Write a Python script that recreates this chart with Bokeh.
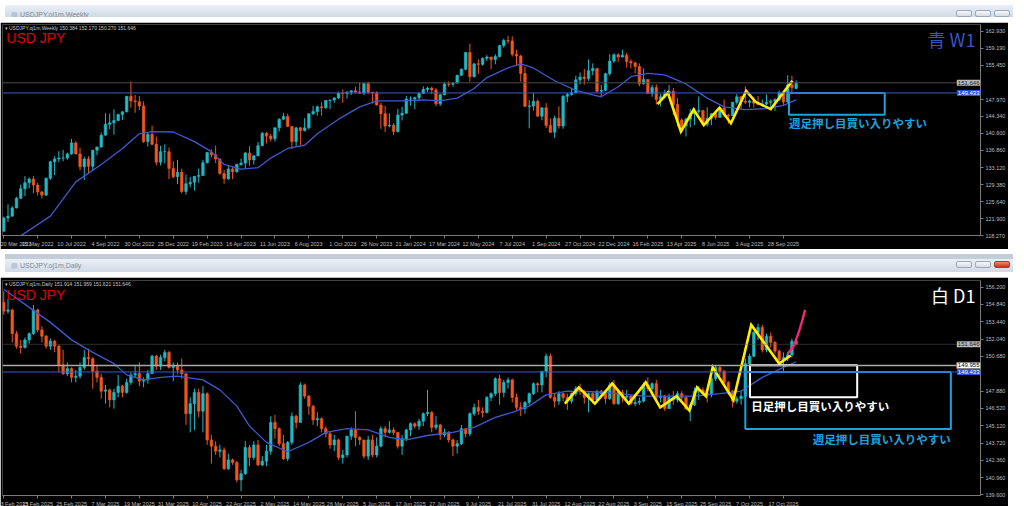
from bokeh.plotting import figure
from bokeh.models import (FixedTicker, Label, Div, ColumnDataSource, Range1d, Span,
                          PrintfTickFormatter)
from bokeh.layouts import column
from bokeh.embed import file_html
from bokeh.resources import INLINE

# ---------------- weekly USDJPY (index 0 = week of 20 Mar 2022) ----------------
w_open = [119.2, 122.1, 122.5, 124.3, 126.4, 128.5, 129.8, 130.6, 129.3, 127.8,
          127.1, 130.8, 134.4, 135.0, 135.2, 135.2, 136.1, 138.5, 136.1, 133.3,
          135.0, 133.4, 136.9, 137.6, 140.2, 142.6, 142.9, 143.4, 144.7, 145.3,
          148.7, 147.7, 147.5, 146.6, 138.8, 140.4, 138.2, 134.3, 136.6, 136.6,
          132.9, 131.1, 132.1, 127.9, 129.6, 129.9, 131.2, 131.4, 134.2, 136.4,
          135.9, 135.0, 131.8, 130.7, 132.8, 132.2, 133.8, 134.1, 136.3, 134.8,
          135.7, 137.9, 140.6, 140.0, 139.4, 141.8, 143.7, 144.3, 142.1, 138.8,
          141.8, 141.2, 141.8, 144.9, 145.4, 146.4, 146.2, 147.8, 147.9, 148.35,
          149.4, 149.3, 149.6, 149.9, 149.65, 149.4, 151.5, 149.6, 149.45, 146.8,
          144.9, 142.2, 142.4, 141.0, 144.6, 145.0, 148.1, 148.1, 148.4, 149.3,
          150.2, 150.5, 150.1, 147.05, 149.05, 151.4, 151.35, 151.6, 153.3, 154.6,
          158.3, 153.0, 155.8, 155.7, 157.0, 157.3, 156.75, 157.4, 159.8, 160.9,
          160.8, 157.9, 157.5, 153.7, 146.5, 146.6, 147.6, 144.35, 146.2, 142.3,
          140.85, 143.9, 142.2, 148.7, 149.1, 149.5, 152.3, 152.9, 152.6, 154.3,
          154.8, 149.8, 150.0, 153.65, 156.4, 157.8, 157.3, 157.7, 156.3, 156.0,
          155.2, 151.4, 152.4, 149.3, 150.6, 148.0, 148.6, 149.3, 149.8, 146.9,
          143.5, 142.2, 143.7, 144.9, 145.4, 145.6, 142.6, 143.9, 144.9, 144.1,
          146.1, 144.6, 144.5, 147.4, 148.6, 147.6, 147.4, 147.7, 147.2, 146.9,
          147.0, 147.4, 147.6, 147.95, 149.5, 147.45, 151.2, 150.384]
w_close = [122.1, 122.5, 124.3, 126.4, 128.5, 129.8, 130.6, 129.3, 127.8, 127.1,
           130.8, 134.4, 135.0, 135.2, 135.2, 136.1, 138.5, 136.1, 133.3, 135.0,
           133.4, 136.9, 137.6, 140.2, 142.6, 142.9, 143.4, 144.7, 145.3, 148.7,
           147.7, 147.5, 146.6, 138.8, 140.4, 138.2, 134.3, 136.6, 136.6, 132.9,
           131.1, 132.1, 127.9, 129.6, 129.9, 131.2, 131.4, 134.2, 136.4, 135.9,
           135.0, 131.8, 130.7, 132.8, 132.2, 133.8, 134.1, 136.3, 134.8, 135.7,
           137.9, 140.6, 140.0, 139.4, 141.8, 143.7, 144.3, 142.1, 138.8, 141.8,
           141.2, 141.8, 144.9, 145.4, 146.4, 146.2, 147.8, 147.9, 148.35, 149.4,
           149.3, 149.6, 149.9, 149.65, 149.4, 151.5, 149.6, 149.45, 146.8, 144.9,
           142.2, 142.4, 141.0, 144.6, 145.0, 148.1, 148.1, 148.4, 149.3, 150.2,
           150.5, 150.1, 147.05, 149.05, 151.4, 151.35, 151.6, 153.3, 154.6, 158.3,
           153.0, 155.8, 155.7, 157.0, 157.3, 156.75, 157.4, 159.8, 160.9, 160.8,
           157.9, 157.5, 153.7, 146.5, 146.6, 147.6, 144.35, 146.2, 142.3, 140.85,
           143.9, 142.2, 148.7, 149.1, 149.5, 152.3, 152.9, 152.6, 154.3, 154.8,
           149.8, 150.0, 153.65, 156.4, 157.8, 157.3, 157.7, 156.3, 156.0, 155.2,
           151.4, 152.4, 149.3, 150.6, 148.0, 148.6, 149.3, 149.8, 146.9, 143.5,
           142.2, 143.7, 144.9, 145.4, 145.6, 142.6, 143.9, 144.9, 144.1, 146.1,
           144.6, 144.5, 147.4, 148.6, 147.6, 147.4, 147.7, 147.2, 146.9, 147.0,
           147.4, 147.6, 147.95, 149.5, 147.45, 151.2, 150.6, 151.646]
w_high = [122.4, 125.1, 124.7, 126.7, 129.4, 131.25, 131.0, 131.3, 129.8, 128.0,
          130.9, 134.6, 135.6, 136.7, 137.0, 136.4, 139.4, 138.9, 137.5, 135.5,
          135.6, 137.0, 137.7, 140.8, 145.0, 144.9, 145.9, 144.9, 145.4, 148.8,
          151.95, 149.0, 148.8, 147.6, 140.8, 142.25, 139.9, 137.9, 138.2, 137.5,
          134.5, 134.8, 132.9, 131.6, 131.1, 131.2, 132.9, 134.8, 136.5, 137.1,
          137.9, 135.1, 132.6, 133.6, 133.2, 134.0, 135.1, 136.55, 137.8, 135.8,
          138.75, 140.9, 140.9, 140.5, 141.9, 143.9, 145.1, 144.9, 142.2, 141.95,
          142.0, 143.9, 145.0, 146.6, 146.65, 147.4, 147.9, 147.95, 148.5, 149.7,
          150.2, 149.8, 150.0, 150.8, 151.7, 151.6, 151.9, 149.7, 149.8, 147.3,
          146.6, 144.95, 142.8, 145.95, 146.4, 148.8, 148.7, 148.6, 149.6, 150.9,
          150.8, 150.8, 150.5, 149.2, 151.85, 151.97, 151.8, 153.4, 154.8, 158.4,
          160.2, 155.9, 156.8, 157.2, 157.7, 157.3, 157.9, 159.9, 161.3, 161.95,
          161.8, 158.9, 157.8, 155.2, 147.9, 149.4, 148.0, 146.2, 147.2, 143.9,
          144.5, 146.5, 149.0, 149.5, 150.3, 153.2, 153.9, 154.7, 156.75, 155.9,
          154.9, 151.2, 153.85, 157.9, 158.1, 158.1, 158.9, 158.2, 156.8, 156.3,
          155.9, 154.8, 152.4, 151.2, 151.3, 149.2, 150.15, 151.2, 150.5, 148.3,
          143.9, 144.0, 145.9, 146.2, 148.65, 145.7, 146.3, 145.0, 145.5, 146.3,
          148.0, 144.9, 147.5, 149.2, 148.8, 150.9, 148.0, 148.5, 148.8, 148.0,
          149.1, 148.0, 148.3, 149.95, 149.6, 153.3, 153.2, 152.17]
w_low = [119.1, 121.2, 122.4, 124.2, 126.3, 126.9, 128.6, 127.5, 127.0, 126.4,
         126.9, 130.4, 131.5, 134.3, 134.5, 134.8, 135.9, 136.5, 132.5, 130.4,
         131.7, 132.6, 135.8, 137.5, 140.1, 141.5, 140.3, 143.3, 143.5, 145.2,
         146.2, 145.1, 145.7, 138.5, 137.7, 138.0, 133.6, 133.6, 134.0, 130.6,
         130.8, 129.5, 127.5, 127.2, 128.8, 128.1, 129.8, 131.3, 134.0, 135.3,
         134.1, 131.6, 129.6, 130.4, 130.6, 132.0, 133.5, 133.0, 133.5, 133.8,
         135.6, 137.8, 138.4, 138.8, 138.8, 141.0, 143.5, 142.1, 137.2, 137.7,
         138.05, 141.0, 141.5, 144.6, 144.5, 144.45, 145.9, 145.9, 147.3, 148.1,
         147.3, 148.2, 149.0, 149.3, 149.2, 149.0, 149.2, 147.1, 146.65, 141.6,
         140.9, 141.9, 140.25, 140.8, 143.4, 144.9, 146.65, 145.9, 147.6, 149.2,
         149.7, 149.2, 146.5, 146.6, 148.9, 150.8, 150.8, 151.5, 153.2, 154.4,
         151.9, 152.8, 153.6, 155.4, 156.4, 154.6, 155.7, 157.2, 159.3, 160.2,
         157.4, 155.4, 151.9, 146.4, 141.7, 145.6, 144.3, 143.45, 141.75, 140.7,
         139.6, 141.65, 141.6, 147.4, 148.85, 149.4, 151.3, 151.3, 152.1, 153.3,
         149.5, 148.65, 149.9, 153.2, 156.0, 156.25, 157.2, 154.95, 154.8, 153.7,
         150.9, 151.3, 149.2, 148.6, 146.9, 146.5, 148.2, 148.9, 144.6, 142.1,
         140.85, 139.9, 141.9, 142.4, 144.9, 142.4, 142.1, 142.4, 143.6, 144.0,
         144.1, 142.7, 144.4, 146.9, 145.85, 147.0, 146.3, 146.2, 146.7, 146.4,
         146.8, 146.3, 145.5, 147.7, 146.6, 147.3, 149.4, 150.27]
w_tick_idx = [0, 8, 16, 24, 32, 40, 48, 56, 64, 72, 80, 88, 96, 104, 112, 120,
              128, 136, 144, 152, 160, 168, 176, 184]
w_tick_labels = ["20 Mar 2022", "15 May 2022", "10 Jul 2022", "4 Sep 2022", "30 Oct 2022",
                 "25 Dec 2022", "19 Feb 2023", "16 Apr 2023", "11 Jun 2023", "6 Aug 2023",
                 "1 Oct 2023", "26 Nov 2023", "21 Jan 2024", "17 Mar 2024", "12 May 2024",
                 "7 Jul 2024", "1 Sep 2024", "27 Oct 2024", "22 Dec 2024", "16 Feb 2025",
                 "13 Apr 2025", "8 Jun 2025", "3 Aug 2025", "28 Sep 2025"]
w_price_ticks = [118.27, 121.90, 125.64, 129.38, 133.12, 136.86, 140.60, 144.34,
                 147.97, 155.45, 159.19, 162.93]
w_ma_idx = [4, 11, 17, 23, 28, 32, 35, 40, 45, 49, 52, 56, 60, 63, 67, 71, 74, 79, 84,
            88, 94, 99, 103, 107, 111, 114, 119, 122, 125, 130, 135, 139, 141, 145, 148,
            152, 156, 161, 166, 170, 175, 180, 184, 187]
w_ma_val = [118.2, 122.5, 130.0, 133.8, 137.3, 140.5, 141.0, 140.9, 138.8, 136.6,
            133.8, 132.8, 133.1, 135.2, 137.3, 138.0, 140.5, 143.7, 146.4, 147.7,
            147.7, 147.9, 147.7, 148.3, 150.4, 152.8, 154.9, 155.8, 154.9, 152.1,
            150.0, 149.0, 148.6, 150.8, 153.0, 153.7, 153.4, 151.4, 148.3, 146.4,
            145.8, 146.0, 146.7, 147.9]
w_zz_idx = [154.3, 156.7, 159.8, 162.8, 165.2, 168.9, 171.6, 175.2, 177.4, 181.0, 186.1]
w_zz_val = [147.0, 149.5, 141.0, 145.8, 142.4, 146.2, 142.8, 149.9, 147.5, 145.9, 152.1]
w_zone = [185.3, 207.9, 149.43, 144.67]          # left, right, top, bottom
w_last_price = 151.646
w_ma_price = 149.433

# ---------------- daily USDJPY (index 0 = 3 Feb 2025) ----------------
d_open = [155.0, 154.3, 154.4, 152.5, 151.5, 151.4, 152.0, 152.5, 154.4, 152.8,
          152.3, 151.5, 151.9, 151.5, 150.0, 149.3, 149.7, 149.0, 149.1, 149.8,
          150.6, 150.5, 149.5, 149.0, 147.9, 148.0, 147.2, 147.8, 148.3, 147.8,
          148.6, 149.2, 149.3, 148.7, 148.8, 149.3, 150.7, 149.9, 150.6, 151.0,
          149.8, 149.9, 149.6, 149.3, 146.1, 146.9, 147.8, 146.3, 147.7, 144.0,
          143.5, 143.1, 143.2, 141.7, 142.4, 142.2, 140.8, 141.3, 143.4, 142.6,
          143.6, 142.0, 142.3, 143.1, 145.4, 144.9, 143.7, 142.5, 143.8, 145.9,
          145.4, 148.4, 147.5, 146.7, 145.6, 145.7, 144.9, 144.5, 143.6, 144.0,
          142.6, 142.8, 144.3, 144.8, 144.2, 144.0, 142.7, 144.0, 142.8, 143.5,
          144.9, 144.6, 144.8, 144.6, 143.5, 144.1, 144.8, 145.3, 145.1, 145.5,
          146.1, 146.2, 145.0, 145.2, 144.4, 144.6, 144.0, 143.5, 143.7, 144.9,
          144.5, 146.1, 146.6, 146.3, 146.2, 147.4, 147.7, 148.9, 147.8, 148.6,
          148.8, 147.4, 146.6, 146.5, 147.0, 147.7, 148.5, 148.4, 149.5, 150.7,
          147.4, 147.1, 147.7, 147.4, 147.1, 147.7, 148.1, 147.9, 147.4, 147.7,
          147.2, 147.9, 147.7, 147.3, 148.4, 146.9, 147.8, 147.4, 147.5, 146.9,
          147.0, 147.1, 148.4, 148.1, 148.5, 147.4, 147.5, 146.5, 147.4, 147.2,
          147.7, 147.4, 146.5, 146.8, 147.9, 148.0, 147.7, 147.6, 148.9, 149.8,
          149.5, 148.6, 147.9, 147.1, 147.3, 147.5, 150.1, 150.7, 152.6, 153.0,
          151.2, 152.3, 151.8, 151.1, 150.4, 150.6, 150.8, 151.914]
d_close = [154.3, 154.4, 152.5, 151.5, 151.4, 152.0, 152.5, 154.4, 152.8, 152.3,
           151.5, 151.9, 151.5, 150.0, 149.3, 149.7, 149.0, 149.1, 149.8, 150.6,
           150.5, 149.5, 149.0, 147.9, 148.0, 147.2, 147.8, 148.3, 147.8, 148.6,
           149.2, 149.3, 148.7, 148.8, 149.3, 150.7, 149.9, 150.6, 151.0, 149.8,
           149.9, 149.6, 149.3, 146.1, 146.9, 147.8, 146.3, 147.7, 144.0, 143.5,
           143.1, 143.2, 141.7, 142.4, 142.2, 140.8, 141.3, 143.4, 142.6, 143.6,
           142.0, 142.3, 143.1, 145.4, 144.9, 143.7, 142.5, 143.8, 145.9, 145.4,
           148.4, 147.5, 146.7, 145.6, 145.7, 144.9, 144.5, 143.6, 144.0, 142.6,
           142.8, 144.3, 144.8, 144.2, 144.0, 142.7, 144.0, 142.8, 143.5, 144.9,
           144.6, 144.8, 144.6, 143.5, 144.1, 144.8, 145.3, 145.1, 145.5, 146.1,
           146.2, 145.0, 145.2, 144.4, 144.6, 144.0, 143.5, 143.7, 144.9, 144.5,
           146.1, 146.6, 146.3, 146.2, 147.4, 147.7, 148.9, 147.8, 148.6, 148.8,
           147.4, 146.6, 146.5, 147.0, 147.7, 148.5, 148.4, 149.5, 150.7, 147.4,
           147.1, 147.7, 147.4, 147.1, 147.7, 148.1, 147.9, 147.4, 147.7, 147.2,
           147.9, 147.7, 147.3, 148.4, 146.9, 147.8, 147.4, 147.5, 146.9, 147.0,
           147.1, 148.4, 148.1, 148.5, 147.4, 147.5, 146.5, 147.4, 147.2, 147.7,
           147.4, 146.5, 146.8, 147.9, 148.0, 147.7, 147.6, 148.9, 149.8, 149.5,
           148.6, 147.9, 147.1, 147.3, 147.5, 150.1, 150.7, 152.6, 153.0, 151.2,
           152.3, 151.8, 151.1, 150.4, 150.6, 150.8, 151.9, 151.646]
d_high = [155.9, 155.3, 154.5, 152.7, 152.0, 152.2, 152.6, 154.8, 154.5, 153.1,
          152.4, 152.1, 152.0, 151.6, 151.2, 150.2, 149.8, 149.6, 150.2, 151.2,
          151.3, 150.6, 150.0, 149.3, 148.4, 148.1, 148.1, 149.2, 148.4, 148.9,
          149.4, 150.0, 150.2, 149.0, 149.6, 150.8, 150.8, 150.8, 151.2, 151.1,
          150.2, 150.2, 150.5, 149.3, 147.4, 148.1, 148.1, 148.3, 147.8, 144.4,
          143.9, 143.6, 143.4, 142.9, 142.5, 142.3, 141.6, 143.9, 143.6, 143.9,
          144.0, 142.7, 143.6, 145.9, 146.0, 145.0, 144.4, 143.9, 146.2, 146.0,
          148.6, 148.5, 147.6, 146.8, 146.2, 145.8, 145.1, 144.7, 144.4, 144.1,
          143.2, 144.3, 145.0, 146.3, 144.3, 144.0, 144.3, 144.4, 144.2, 145.1,
          145.1, 145.5, 145.0, 144.6, 144.4, 144.9, 145.4, 145.4, 145.7, 146.2,
          148.0, 146.3, 145.9, 145.3, 144.9, 144.7, 144.1, 144.0, 145.2, 144.9,
          146.2, 146.9, 147.2, 146.6, 147.5, 147.8, 149.0, 149.2, 148.8, 149.0,
          148.9, 147.7, 147.0, 147.1, 147.8, 148.6, 148.6, 149.5, 150.9, 150.9,
          147.7, 147.9, 147.8, 147.7, 147.8, 148.3, 148.5, 148.0, 147.8, 147.9,
          148.0, 148.0, 147.8, 148.6, 148.8, 147.9, 148.0, 148.0, 147.6, 147.4,
          147.4, 148.6, 149.0, 148.6, 148.8, 148.0, 147.6, 147.7, 147.9, 147.9,
          147.9, 147.5, 147.0, 148.2, 148.3, 148.2, 147.9, 149.0, 149.9, 149.9,
          149.6, 148.7, 148.0, 147.5, 147.9, 150.5, 150.9, 152.7, 153.3, 153.2,
          152.5, 152.6, 151.9, 151.2, 151.0, 151.0, 152.1, 151.959]
d_low = [154.0, 154.1, 151.8, 151.3, 150.9, 151.3, 151.7, 152.4, 152.6, 151.8,
         151.3, 151.2, 151.0, 149.4, 149.2, 149.1, 148.6, 148.6, 148.9, 149.6,
         150.0, 148.1, 148.6, 147.3, 146.9, 146.6, 146.5, 147.4, 147.4, 147.7,
         148.4, 149.0, 148.3, 148.2, 148.5, 149.3, 149.6, 149.6, 150.3, 149.7,
         148.7, 149.3, 148.9, 145.2, 144.6, 144.8, 145.8, 144.6, 143.6, 142.1,
         142.8, 142.6, 141.6, 141.6, 142.0, 140.6, 139.9, 141.2, 141.9, 142.4,
         141.9, 141.9, 141.9, 142.8, 144.1, 143.5, 142.4, 142.3, 143.6, 144.9,
         145.4, 147.3, 146.0, 145.2, 145.1, 144.6, 144.2, 143.3, 143.1, 142.4,
         142.1, 142.6, 144.0, 143.5, 143.6, 142.5, 142.4, 142.6, 142.6, 143.4,
         144.2, 144.5, 144.4, 143.3, 142.8, 143.9, 144.3, 144.9, 144.8, 145.1,
         145.9, 144.6, 144.8, 144.0, 144.2, 143.8, 142.7, 142.9, 143.6, 144.2,
         144.3, 145.9, 146.0, 145.8, 146.1, 147.1, 147.5, 146.8, 147.4, 148.1,
         147.0, 146.4, 145.9, 146.1, 146.8, 147.6, 147.8, 147.8, 149.0, 147.3,
         146.6, 146.8, 147.1, 146.4, 146.9, 147.5, 147.6, 146.9, 146.2, 146.9,
         147.1, 147.4, 146.9, 147.2, 146.8, 146.8, 147.0, 147.2, 146.8, 146.7,
         146.8, 147.0, 147.9, 147.8, 147.0, 147.0, 146.3, 146.5, 146.8, 147.0,
         147.1, 146.4, 145.5, 146.7, 147.2, 147.5, 147.0, 147.4, 148.7, 149.1,
         148.4, 147.6, 146.6, 146.9, 146.8, 147.5, 149.9, 150.6, 152.0, 151.0,
         151.0, 151.4, 150.9, 150.2, 149.4, 150.3, 150.6, 151.621]
d_tick_idx = [0, 8, 16, 24, 32, 40, 48, 56, 64, 72, 80, 88, 96, 104, 112, 120,
              128, 136, 144, 152, 160, 168, 176, 184]
d_tick_labels = ["3 Feb 2025", "13 Feb 2025", "25 Feb 2025", "7 Mar 2025", "19 Mar 2025",
                 "31 Mar 2025", "10 Apr 2025", "22 Apr 2025", "2 May 2025", "14 May 2025",
                 "26 May 2025", "5 Jun 2025", "17 Jun 2025", "27 Jun 2025", "9 Jul 2025",
                 "21 Jul 2025", "31 Jul 2025", "12 Aug 2025", "22 Aug 2025", "3 Sep 2025",
                 "15 Sep 2025", "25 Sep 2025", "7 Oct 2025", "17 Oct 2025"]
d_price_ticks = [139.60, 140.96, 142.36, 143.72, 145.12, 146.52, 147.88,
                 150.68, 152.04, 153.44, 154.84, 156.20]
d_ma_idx = [0, 6, 11, 16, 21, 26, 29, 33, 37, 41, 47, 51, 55, 58, 62, 67, 72, 76, 81,
            86, 91, 95, 100, 106, 111, 116, 120, 124, 128, 133, 139, 145, 151, 157, 163,
            169, 174, 179, 184, 187]
d_ma_val = [156.05, 154.6, 153.4, 152.0, 151.0, 150.1, 149.2, 148.8, 149.0, 149.1,
            148.8, 148.0, 146.7, 145.1, 143.8, 143.05, 143.8, 144.6, 144.9, 144.8,
            144.2, 144.0, 144.35, 144.6, 145.0, 145.8, 146.2, 146.7, 147.6, 147.9,
            147.85, 147.7, 147.5, 147.5, 147.5, 147.7, 147.9, 149.0, 149.8, 150.25]
d_zz_idx = [132.4, 135.7, 139.5, 143.6, 147.5, 151.5, 154.9, 158.8, 161.8, 163.6,
            165.7, 167.3, 172.2, 176.4, 183.0, 185.7]
d_zz_val = [146.9, 148.2, 146.9, 148.5, 146.9, 148.6, 146.6, 147.5, 146.35, 148.2,
            147.5, 149.8, 147.2, 153.2, 150.1, 150.75]
d_proj_idx = [184.9, 186.4, 187.6, 188.4, 189.1]
d_proj_val = [150.86, 151.5, 152.6, 153.5, 154.4]
d_zone_white = [176.1, 201.4, 149.97, 147.42]
d_zone_cyan = [175.0, 223.5, 149.43, 144.87]
d_last_price = 151.646
d_line_price = 149.955
d_ma_price = 149.433

BULL = "#20b9c6"
BEAR = "#f2561d"
MA_C = "#3d59d0"
CYAN = "#1ea2dc"
YEL = "#ffec00"
AXC = "#7a7a7a"
LBL = "#bdbdbd"
NUM_FONT = "Liberation Sans"
JP_FONT = "Noto Sans CJK JP"
X_END = 230.5


def base_fig(height, yr, top, bottom, ticks_idx, tick_labels, price_ticks):
    p = figure(width=1008, height=height, x_range=Range1d(-0.3, X_END), y_range=Range1d(*yr),
               y_axis_location="right", output_backend="svg", toolbar_location=None,
               min_border_top=top, min_border_left=2, min_border_right=27,
               min_border_bottom=bottom)
    p.background_fill_color = "black"
    p.border_fill_color = "black"
    p.outline_line_color = None
    p.grid.visible = False
    for ax in (p.xaxis[0], p.yaxis[0]):
        ax.axis_line_color = AXC
        ax.major_tick_line_color = AXC
        ax.minor_tick_line_color = None
        ax.major_tick_in = 0
        ax.major_tick_out = 3
        ax.major_label_text_color = LBL
        ax.major_label_text_font = NUM_FONT
        ax.major_label_text_font_size = "5.5px"
        ax.major_label_standoff = 2
    p.xaxis.ticker = FixedTicker(ticks=ticks_idx)
    p.xaxis.major_label_overrides = {i: s for i, s in zip(ticks_idx, tick_labels)}
    p.xaxis.major_label_text_align = "left"
    p.yaxis.ticker = FixedTicker(ticks=price_ticks)
    p.yaxis.formatter = PrintfTickFormatter(format="%.3f")
    return p


def candles(p, o, h, l, c):
    idx = list(range(len(o)))
    col = [BULL if cc >= oo else BEAR for oo, cc in zip(o, c)]
    src = ColumnDataSource(dict(x=idx, h=h, l=l, top=[max(a, b) for a, b in zip(o, c)],
                                bot=[min(a, b) for a, b in zip(o, c)], col=col))
    p.segment(x0="x", y0="l", x1="x", y1="h", line_color="col", line_width=1, source=src)
    p.vbar(x="x", width=0.6, top="top", bottom="bot", fill_color="col", line_color="col",
           line_width=0.6, source=src)


def price_box(p, y, txt_, bg, fg, border=None):
    # price tag drawn at the right edge of the chart frame, next to the price axis
    p.add_layout(Label(x=X_END, y=y, text=txt_, text_font=NUM_FONT, text_font_size="6px",
                       text_color=fg, text_baseline="middle", text_align="right",
                       background_fill_color=bg, border_line_color=border,
                       padding=1))


def txt(p, x, y, s, color, size, font, align="left", baseline="top", weight="normal"):
    p.add_layout(Label(x=x, y=y, text=s, text_color=color, text_font_size=size,
                       text_font=font, text_align=align, text_baseline=baseline,
                       text_font_style=weight))


# ---------------- weekly chart ----------------
w = base_fig(227, (118.27, 164.4), 2, 13, w_tick_idx, w_tick_labels, w_price_ticks)
w.add_layout(Span(location=w_last_price, dimension="width", line_color="#4d4d4d", line_width=1))
w.add_layout(Span(location=w_ma_price, dimension="width", line_color=MA_C, line_width=1))
candles(w, w_open, w_high, w_low, w_close)
w.line(w_ma_idx, w_ma_val, line_color=MA_C, line_width=1.3)
w.line(w_zz_idx, w_zz_val, line_color=YEL, line_width=2.6, line_join="miter")
w.quad(left=[w_zone[0]], right=[w_zone[1]], top=[w_zone[2]], bottom=[w_zone[3]],
       fill_alpha=0, line_color=CYAN, line_width=2)
txt(w, w_zone[0], 142.8, "週足押し目買い入りやすい", CYAN, "11.5px", JP_FONT,
    baseline="middle", weight="bold")
txt(w, 0.2, 164.35, "▾  USDJPY.oj1m,Weekly  150.384 152.170 150.270 151.646", "#c8c8c8",
    "5px", NUM_FONT)
txt(w, 0.6, 163.3, "USD JPY", "#e00000", "14px", "Liberation Sans")
txt(w, 229.3, 164.0, "青 W1", "#3656c8", "18px", JP_FONT, align="right")
price_box(w, w_last_price, "151.646", "#b8b8b8", "#202020")
price_box(w, w_ma_price, "149.433", "#3050d8", "white")

# ---------------- daily chart ----------------
d = base_fig(233, (139.55, 156.75), 3, 15, d_tick_idx, d_tick_labels, d_price_ticks)
d.add_layout(Span(location=d_last_price, dimension="width", line_color="#5a5a5a",
                  line_width=1, line_dash="1 1"))
d.add_layout(Span(location=d_line_price, dimension="width", line_color="#a8a8a8", line_width=1.6))
d.add_layout(Span(location=d_ma_price, dimension="width", line_color=MA_C, line_width=1))
candles(d, d_open, d_high, d_low, d_close)
d.line(d_ma_idx, d_ma_val, line_color=MA_C, line_width=1.3)
d.line(d_zz_idx, d_zz_val, line_color=YEL, line_width=2.6, line_join="miter")
d.line(d_proj_idx, d_proj_val, line_color="#f0287a", line_width=2.4)
d.quad(left=[d_zone_white[0]], right=[d_zone_white[1]], top=[d_zone_white[2]],
       bottom=[d_zone_white[3]], fill_alpha=0, line_color="white", line_width=2)
d.quad(left=[d_zone_cyan[0]], right=[d_zone_cyan[1]], top=[d_zone_cyan[2]],
       bottom=[d_zone_cyan[3]], fill_alpha=0, line_color=CYAN, line_width=2)
txt(d, d_zone_white[0] + 0.3, 146.69, "日足押し目買い入りやすい", "white", "11.5px", JP_FONT,
    baseline="middle", weight="bold")
txt(d, d_zone_cyan[1], 144.1, "週足押し目買い入りやすい", CYAN, "11.5px", JP_FONT,
    align="right", baseline="middle", weight="bold")
txt(d, 0.2, 156.72, "▾  USDJPY.oj1m,Daily  151.914 151.959 151.621 151.646", "#c8c8c8",
    "5px", NUM_FONT)
txt(d, 0.6, 156.2, "USD JPY", "#e00000", "14px", "Liberation Sans")
txt(d, 229.3, 156.6, "白 D1", "white", "18px", JP_FONT, align="right")
price_box(d, d_last_price, "151.646", "#b8b8b8", "#202020")
price_box(d, d_line_price, "149.955", "white", "black", border="#808080")
price_box(d, d_ma_price, "149.433", "#3050d8", "white")

# ---------------- window title bars ----------------
BTN = ('<span style="display:inline-block;width:16px;height:7px;margin-left:3px;'
       'border:1px solid #9aa8b8;border-radius:2px;background:linear-gradient(#f6f8fb,#d4dce6)">'
       '</span>')
BTN_RED = ('<span style="display:inline-block;width:16px;height:7px;margin-left:3px;'
           'border:1px solid #a04030;border-radius:2px;background:linear-gradient(#f08a70,#c8321e)">'
           '</span>')


def title_bar(label, height, pad_top, close_btn):
    html = ('<div style="display:flex;justify-content:space-between;align-items:center;'
            f'width:1008px;height:{height - pad_top}px;margin-top:{pad_top}px;'
            'font-family:Liberation Sans;font-size:7px;color:#7d8a9a">'
            f'<span style="padding-left:6px"><span style="color:#9fb4c8">&#9636;</span>&nbsp;{label}</span>'
            f'<span style="padding-right:3px">{BTN}{BTN}{close_btn}</span></div>')
    bg = (f"linear-gradient(to bottom, #c3ccd7 0px, #c3ccd7 {pad_top}px, "
          f"#eaf0f7 {pad_top}px, #d0dae6 {height}px)")
    return Div(text=html, width=1008, height=height,
               styles={"background": bg, "overflow": "hidden"})


bar1 = title_bar("USDJPY.oj1m,Weekly", 12, 0, BTN)
bar2 = title_bar("USDJPY.oj1m,Daily", 18, 5, BTN_RED)

layout = column(bar1, w, bar2, d, spacing=0)
open("out.html", "w").write(file_html(layout, INLINE))
